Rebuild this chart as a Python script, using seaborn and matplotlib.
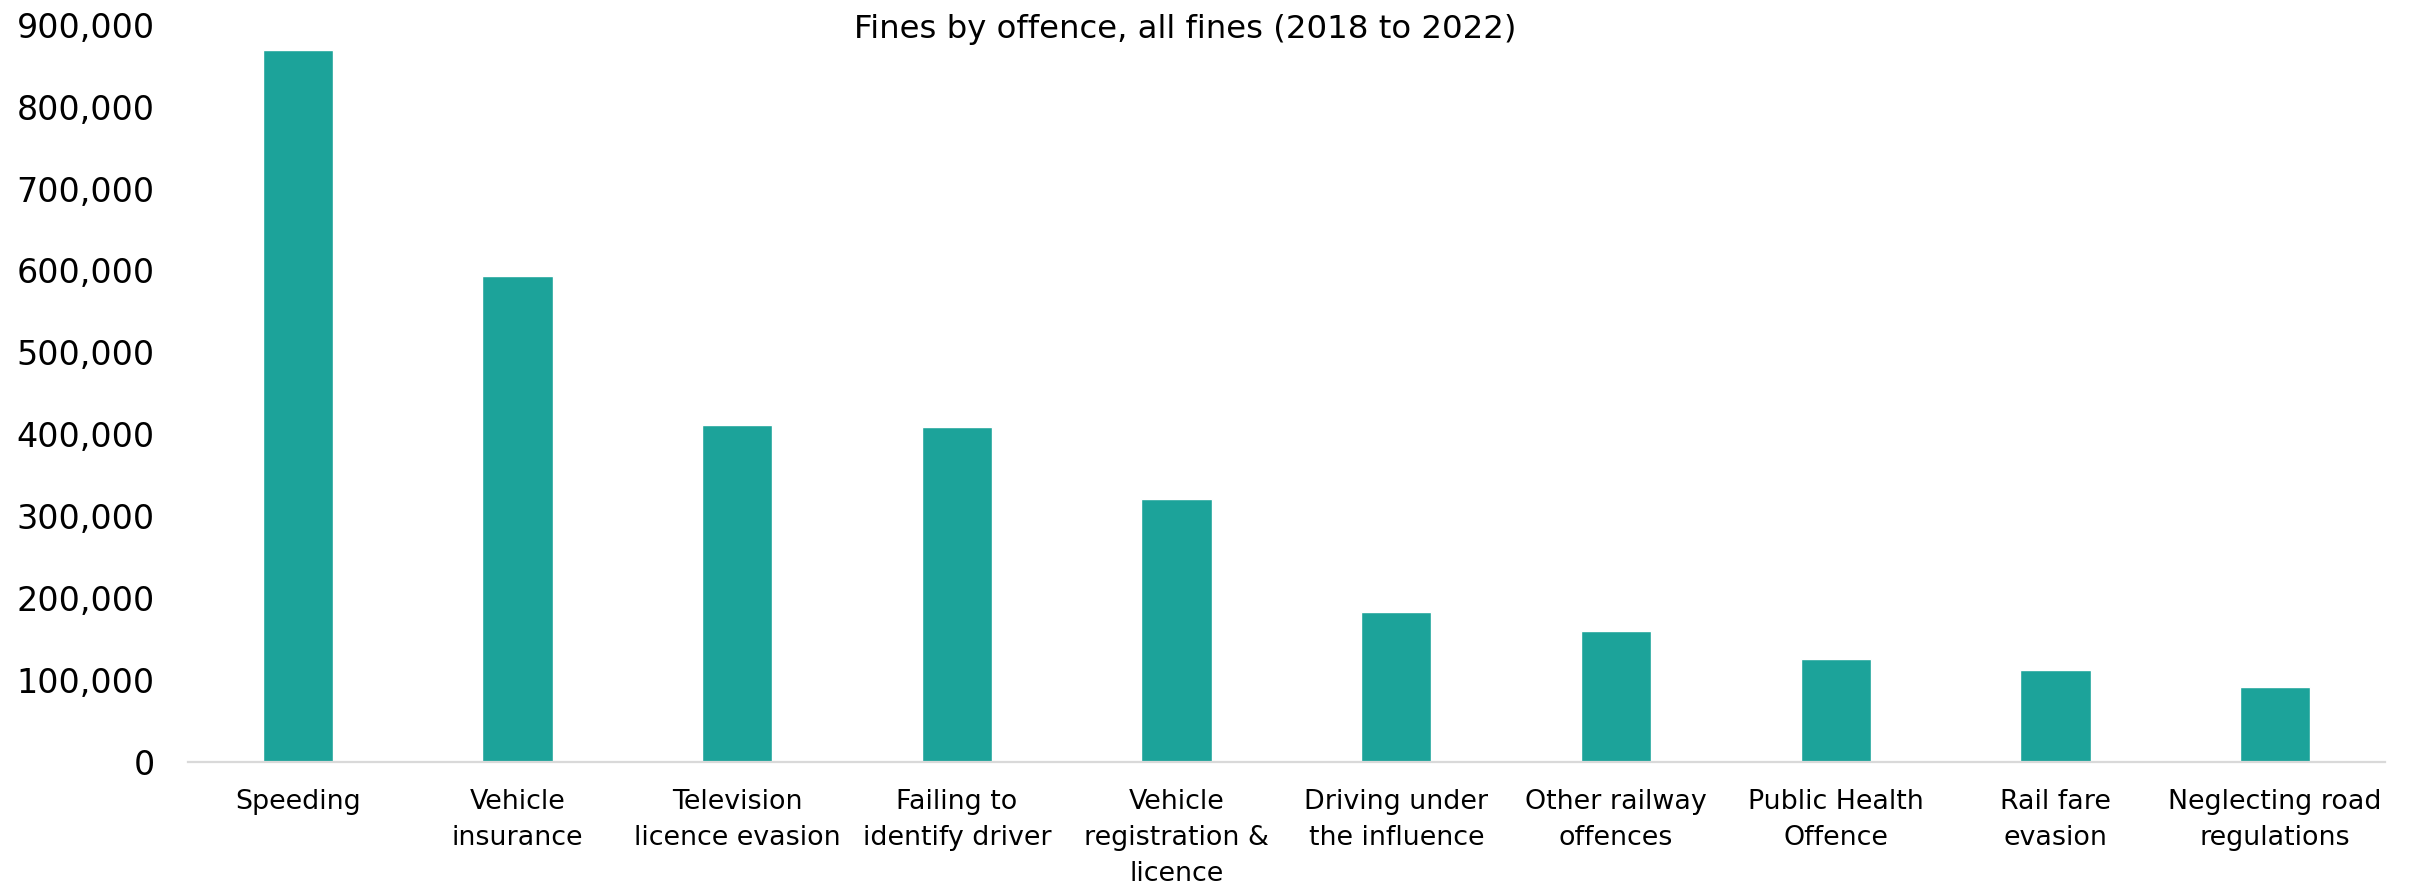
import matplotlib
matplotlib.use("Agg")
import matplotlib.pyplot as plt
import seaborn as sns
import pandas as pd
from matplotlib.ticker import FuncFormatter

offences = [
    "Speeding",
    "Vehicle\ninsurance",
    "Television\nlicence evasion",
    "Failing to\nidentify driver",
    "Vehicle\nregistration &\nlicence",
    "Driving under\nthe influence",
    "Other railway\noffences",
    "Public Health\nOffence",
    "Rail fare\nevasion",
    "Neglecting road\nregulations",
]
fines = [869000, 593500, 411700, 408900, 321300, 182200, 159700, 125800, 112300, 91500]
y_ticks = [0, 100000, 200000, 300000, 400000, 500000, 600000, 700000, 800000, 900000]
title = "Fines by offence, all fines (2018 to 2022)"

df = pd.DataFrame({"offence": offences, "fines": fines})

sns.set_theme(style="white")
plt.rcParams["font.family"] = ["DejaVu Sans"]

fig = plt.figure(figsize=(24.10, 8.85), dpi=100)
ax = fig.add_axes([0.078, 0.1395, 0.9116, 0.8323])

sns.barplot(data=df, x="offence", y="fines", color="#1ca39a", saturation=1,
            width=0.32, ax=ax)

ax.set_ylim(0, 900000)
ax.set_yticks(y_ticks)
ax.yaxis.set_major_formatter(FuncFormatter(lambda v, p: f"{int(v):,}"))
ax.set_xlabel("")
ax.set_ylabel("")
ax.set_xlim(-0.5, len(offences) - 0.5)

for side in ["left", "right", "top"]:
    ax.spines[side].set_visible(False)
ax.spines["bottom"].set_color("#d9d9d9")
ax.spines["bottom"].set_linewidth(1.6)

ax.tick_params(axis="y", length=0, pad=24, labelsize=24, labelcolor="black")
ax.tick_params(axis="x", length=0, pad=20, labelsize=19.4, labelcolor="black")
for lbl in ax.get_xticklabels():
    lbl.set_horizontalalignment("center")
    lbl.set_verticalalignment("top")
    lbl.set_multialignment("center")
    lbl.set_linespacing(1.48)

fig.text(0.4917, 0.967, title, ha="center", va="center", fontsize=23.3, color="black")

fig.savefig("out.png", dpi=100, facecolor="white")
